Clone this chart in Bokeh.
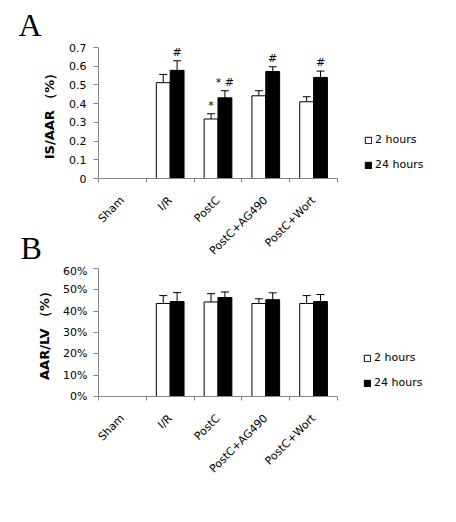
import math
from bokeh.plotting import figure
from bokeh.models import (ColumnDataSource, Range1d, FixedTicker, Whisker, TeeHead,
                          Label, Legend, LegendItem, NumeralTickFormatter)
from bokeh.layouts import column, row
from bokeh.core.properties import value
from bokeh.embed import file_html
from bokeh.resources import INLINE

nan = float("nan")

categories = ["Sham", "I/R", "PostC", "PostC+AG490", "PostC+Wort"]
series = ["2 hours", "24 hours"]
panel_letters = ["A", "B"]

# Panel A: IS/AAR
a_2h = [nan, 0.512, 0.318, 0.442, 0.410]
a_2h_err = [nan, 0.044, 0.028, 0.027, 0.027]
a_24h = [nan, 0.578, 0.431, 0.572, 0.540]
a_24h_err = [nan, 0.051, 0.038, 0.025, 0.034]
a_2h_marks = ["", "", "*", "", ""]
a_24h_marks = ["", "#", "* #", "#", "#"]
a_ticks = [0, 0.1, 0.2, 0.3, 0.4, 0.5, 0.6, 0.7]

# Panel B: AAR/LV
b_2h = [nan, 0.436, 0.443, 0.436, 0.436]
b_2h_err = [nan, 0.037, 0.039, 0.022, 0.037]
b_24h = [nan, 0.445, 0.464, 0.454, 0.445]
b_24h_err = [nan, 0.042, 0.026, 0.032, 0.033]
b_ticks = [0, 0.1, 0.2, 0.3, 0.4, 0.5, 0.6]

FONT = "DejaVu Sans"
AXIS_GRAY = "#868686"
BAR_W = 0.29
OFF = 0.145
X_END = 6.8   # the frame extends right of the last category to hold the legend


def make_panel(v1, e1, v2, e2, m1, m2, ticks, ymax, fmt, ylabel,
               width, height, bl, br, bt, bb, leg_loc, tick_standoff, label_standoff):
    p = figure(width=width, height=height, output_backend="svg", toolbar_location=None,
               x_range=Range1d(0, X_END), y_range=Range1d(0, ymax),
               min_border_left=bl, min_border_right=br, min_border_top=bt, min_border_bottom=bb)
    p.outline_line_color = None
    p.xgrid.grid_line_color = None
    p.ygrid.grid_line_color = None
    p.background_fill_color = "white"
    p.border_fill_alpha = 0

    centers = [i + 0.5 for i in range(len(categories))]
    src = ColumnDataSource(dict(
        x1=[c - OFF for c in centers], x2=[c + OFF for c in centers],
        v1=v1, v2=v2,
        u1=[a + b for a, b in zip(v1, e1)], u2=[a + b for a, b in zip(v2, e2)],
        m1=m1, m2=m2,
    ))
    r1 = p.vbar(x="x1", top="v1", bottom=0, width=BAR_W, source=src,
                fill_color="white", line_color="black", line_width=1)
    r2 = p.vbar(x="x2", top="v2", bottom=0, width=BAR_W, source=src,
                fill_color="black", line_color="black", line_width=1)
    for xb, lo, up in (("x1", "v1", "u1"), ("x2", "v2", "u2")):
        w = Whisker(source=src, base=xb, lower=lo, upper=up, lower_head=None,
                    upper_head=TeeHead(size=8, line_color="black", line_width=1),
                    line_color="black", line_width=1)
        p.add_layout(w)
    for xb, up, mk in (("x1", "u1", "m1"), ("x2", "u2", "m2")):
        p.text(x=xb, y=up, text=mk, source=src, text_font=value(FONT),
               text_font_size=value("11px"), text_align="center",
               text_baseline="bottom", y_offset=-2, text_color="black")

    # x axis: boundary ticks as minor ticks, labels at category centres
    xa = p.xaxis[0]
    xa.bounds = (0, len(categories))
    xa.ticker = FixedTicker(ticks=centers, minor_ticks=list(range(len(categories) + 1)))
    xa.major_label_overrides = {c: cat for c, cat in zip(centers, categories)}
    xa.major_tick_line_color = None
    xa.major_tick_out = 4
    xa.major_tick_in = 0
    xa.minor_tick_line_color = AXIS_GRAY
    xa.minor_tick_out = 4
    xa.minor_tick_in = 0
    xa.axis_line_color = AXIS_GRAY
    xa.major_label_orientation = math.pi / 4
    xa.major_label_text_font = FONT
    xa.major_label_text_font_size = "11px"
    xa.major_label_text_color = "black"
    xa.major_label_standoff = 16

    # y axis
    ya = p.yaxis[0]
    ya.ticker = FixedTicker(ticks=ticks)
    ya.formatter = NumeralTickFormatter(format=fmt)
    ya.minor_tick_line_color = None
    ya.major_tick_out = 5
    ya.major_tick_in = 0
    ya.major_tick_line_color = AXIS_GRAY
    ya.axis_line_color = AXIS_GRAY
    ya.major_label_text_font = FONT
    ya.major_label_text_font_size = "11px"
    ya.major_label_text_color = "black"
    ya.major_label_standoff = tick_standoff
    ya.axis_label = ylabel
    ya.axis_label_text_font = FONT
    ya.axis_label_text_font_style = "bold"
    ya.axis_label_text_font_size = "13px"
    ya.axis_label_standoff = label_standoff
    ya.axis_label_text_color = "black"

    legend = Legend(items=[LegendItem(label=series[0], renderers=[r1]),
                           LegendItem(label=series[1], renderers=[r2])],
                    location=leg_loc, glyph_width=8, glyph_height=8,
                    label_height=12, spacing=12, padding=0, margin=0,
                    border_line_color=None, background_fill_alpha=0,
                    label_text_font=FONT, label_text_font_size="11px",
                    label_standoff=3, label_text_color="black")
    p.add_layout(legend)
    return p


HA, HB = 264, 224
pA = make_panel(a_2h, a_2h_err, a_24h, a_24h_err, a_2h_marks, a_24h_marks,
                a_ticks, 0.7, "0.[0]", "IS/AAR （%）",
                406, HA, 55, 16, 47, 86, (266, 7), 7, 9)
pB = make_panel(b_2h, b_2h_err, b_24h, b_24h_err, [""] * 5, [""] * 5,
                b_ticks, 0.6, "0%", "AAR/LV （%）",
                406, HB, 59, 17, 4, 92, (265, 7), 6, 8)

# strip on the left holding the panel letters; it slightly overlaps the
# (transparent) left border of the panels through a negative right margin
strip_h = HA + HB
strip = figure(width=42, height=strip_h, output_backend="svg", toolbar_location=None,
               x_axis_type=None, y_axis_type=None, min_border=0,
               x_range=Range1d(0, 1), y_range=Range1d(0, 1))
strip.outline_line_color = None
strip.xgrid.grid_line_color = None
strip.ygrid.grid_line_color = None
strip.background_fill_alpha = 0
strip.border_fill_alpha = 0
strip.margin = (0, -8, 0, 0)
for letter, lx, ly in zip(panel_letters, [18, 20], [strip_h - 24, strip_h - 247]):
    strip.add_layout(Label(x=lx, y=ly, x_units="screen", y_units="screen", text=letter,
                           text_font="Liberation Serif", text_font_size="32px",
                           text_baseline="alphabetic", text_color="black"))

layout = row(strip, column(pA, pB))
open("out.html", "w").write(file_html(layout, INLINE))
